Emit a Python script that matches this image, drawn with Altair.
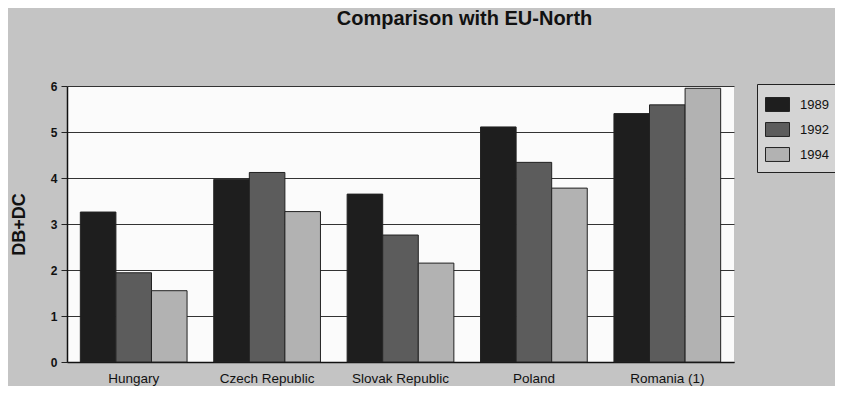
import altair as alt
import pandas as pd

countries = ["Hungary", "Czech Republic", "Slovak Republic", "Poland", "Romania (1)"]
years = ["1989", "1992", "1994"]
v1989 = [3.26, 3.97, 3.65, 5.11, 5.40]
v1992 = [1.94, 4.12, 2.76, 4.34, 5.59]
v1994 = [1.55, 3.27, 2.15, 3.78, 5.95]
colors = ["#1e1e1e", "#5c5c5c", "#b2b2b2"]

rows = []
for yr, vals in zip(years, [v1989, v1992, v1994]):
    for c, v in zip(countries, vals):
        rows.append({"country": c, "year": yr, "value": v})
df = pd.DataFrame(rows)

font = "Liberation Sans"

chart = alt.Chart(df).mark_bar(stroke="#222222", strokeWidth=1).encode(
    x=alt.X("country:N", sort=countries, title=None,
            scale=alt.Scale(paddingInner=0.2, paddingOuter=0.1),
            axis=alt.Axis(labelAngle=0, ticks=False, domainColor="#111111", domainWidth=1.5,
                          labelFont=font, labelFontSize=13.5, labelColor="#111111", labelPadding=9)),
    xOffset=alt.XOffset("year:N", sort=years),
    y=alt.Y("value:Q", title="DB+DC",
            scale=alt.Scale(domain=[0, 6]),
            axis=alt.Axis(values=[0, 1, 2, 3, 4, 5, 6], tickSize=6, tickColor="#222222",
                          domainColor="#111111", domainWidth=1.5,
                          gridColor="#333333", gridWidth=1.2, gridOpacity=1,
                          labelFont=font, labelFontSize=12, labelFontWeight="bold",
                          labelColor="#111111", labelPadding=4,
                          titleFont=font, titleFontSize=18, titleFontWeight="bold",
                          titleColor="#111111", titlePadding=22)),
    color=alt.Color("year:N", sort=years, title=None,
                    scale=alt.Scale(domain=years, range=colors),
                    legend=alt.Legend(orient="none", legendX=690, legendY=-2,
                                      symbolType="M-1,-0.58H1V0.58H-1Z", symbolSize=576,
                                      symbolStrokeColor="#222222", symbolStrokeWidth=1,
                                      labelFont=font, labelFontSize=13, labelColor="#111111",
                                      rowPadding=3, padding=8, labelOffset=10,
                                      strokeColor="#222222", fillColor="#d4d4d4")),
).properties(
    width=667,
    height=276,
    background="#c4c4c4",
    padding={"left": 59, "top": 78, "right": 101, "bottom": 24},
    autosize=alt.AutoSizeParams(type="none"),
    title=alt.TitleParams("Comparison with EU-North", font=font, fontSize=20, fontWeight="bold",
                          color="#111111", anchor="middle", dx=64, offset=51),
).configure_view(fill="#fbfbfb", stroke=None)

chart.save("out.html", embed_options={"renderer": "svg", "actions": False})
